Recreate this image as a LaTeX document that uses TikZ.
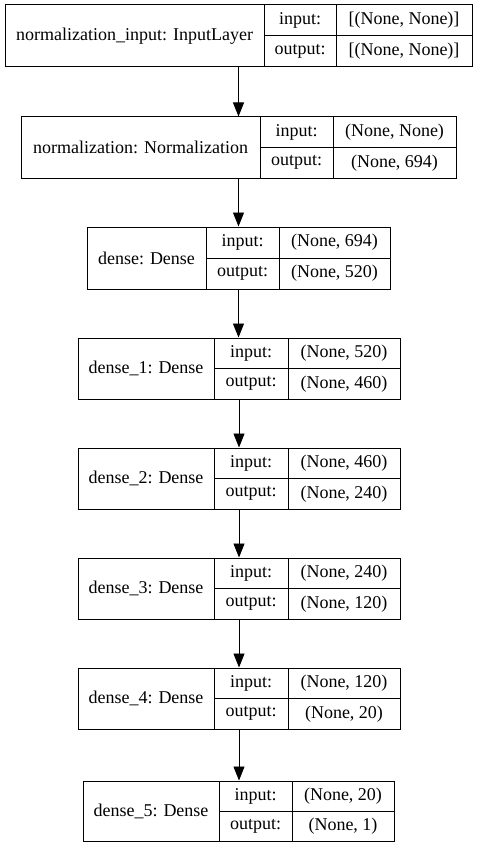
\documentclass[tikz,border=0pt]{standalone}
\usepackage{fontspec}
\setmainfont{Liberation Serif}
\newfontfamily\layerfont{Liberation Serif}
\usetikzlibrary{arrows.meta}
\begin{document}
\begin{tikzpicture}[x=1pt,y=-1pt,
  layerbox/.style={draw=black,line width=1pt,inner sep=0pt,fill=none},
  celltext/.style={inner sep=0pt,font=\layerfont\fontsize{18}{20}\selectfont,text=black},
  rule/.style={draw=black,line width=1pt},
  flow/.style={draw=black,line width=0.9pt,-{Triangle[length=14pt,width=11pt]}}]
\useasboundingbox (0,0) rectangle (477,848);
\fill[white] (0,0) rectangle (477,848);
% name / left / divider 1 / divider 2 / right / top / bottom / label / input / output
\foreach \nm/\xl/\xa/\xb/\xr/\yt/\yb/\lab/\vin/\vout in {
  L0/5/264/336/472/5/67/{normalization\_input: InputLayer}/{[(None, None)]}/{[(None, None)]},
  L1/21/260/333/456/117/178/{normalization: Normalization}/{(None, None)}/{(None, 694)},
  L2/87/206/279/390/227/289/{dense: Dense}/{(None, 694)}/{(None, 520)},
  L3/78/214/288/400/338/399/{dense\_1: Dense}/{(None, 520)}/{(None, 460)},
  L4/78/214/288/400/448/509/{dense\_2: Dense}/{(None, 460)}/{(None, 240)},
  L5/78/214/288/400/558/619/{dense\_3: Dense}/{(None, 240)}/{(None, 120)},
  L6/78/214/288/400/668/729/{dense\_4: Dense}/{(None, 120)}/{(None, 20)},
  L7/83/219/292/394/781/841/{dense\_5: Dense}/{(None, 20)}/{(None, 1)}}
{
  \pgfmathsetmacro\bw{\xr-\xl}
  \pgfmathsetmacro\bh{\yb-\yt}
  \pgfmathsetmacro\ym{(\yt+\yb)/2}
  \node[layerbox,minimum width=\bw pt,minimum height=\bh pt]
    (\nm) at ({(\xl+\xr)/2},\ym) {};
  \draw[rule] (\xa,\yt) -- (\xa,\yb);
  \draw[rule] (\xb,\yt) -- (\xb,\yb);
  \draw[rule] (\xa,\ym) -- (\xr,\ym);
  \node[celltext] (\nm-name) at ({(\xl+\xa)/2},\ym) {\lab};
  \node[celltext] (\nm-inkey) at ({(\xa+\xb)/2},{(\yt+\ym)/2}) {input:};
  \node[celltext] (\nm-outkey) at ({(\xa+\xb)/2},{(\ym+\yb)/2}) {output:};
  \node[celltext] (\nm-inval) at ({(\xb+\xr)/2},{(\yt+\ym)/2}) {\vin};
  \node[celltext] (\nm-outval) at ({(\xb+\xr)/2},{(\ym+\yb)/2}) {\vout};
}
% data flow between consecutive layers, kept vertical
\foreach \s/\t in {L0/L1,L1/L2,L2/L3,L3/L4,L4/L5,L5/L6,L6/L7}
  \draw[flow] (\s.south) -- (\s.south |- \t.north);
\end{tikzpicture}
\end{document}
